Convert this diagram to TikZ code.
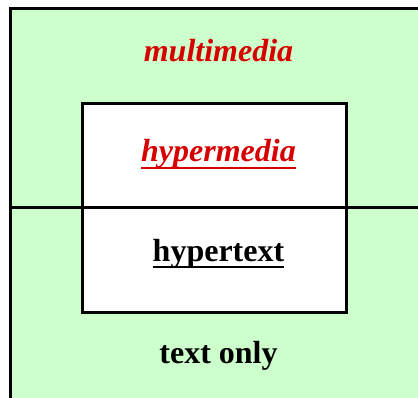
\documentclass[tikz,border=0pt]{standalone}
\usepackage{fontspec}
\setmainfont{Liberation Serif}
\usepackage{xcolor}
\usepackage{tikz}
\usetikzlibrary{positioning}
\definecolor{mintbg}{RGB}{204,255,204}
\definecolor{hotred}{RGB}{214,0,0}
\newcommand{\undr}[2]{\setbox0\hbox{#2}\rlap{\color{#1}\rule[-7pt]{\wd0}{2.4pt}}\box0}

\begin{document}
\begin{tikzpicture}[
  x=1pt, y=1pt,
  frame/.style={draw, line width=3pt},
  label/.style={font=\fontsize{32}{36}\selectfont\bfseries, anchor=base, inner sep=0pt}
]
\useasboundingbox (0,0) rectangle (418,397);
\begin{scope}
\clip (0,0) rectangle (418,397);
\fill[mintbg] (10.5,-10) rectangle (430,388.5);
\fill[white] (82,85) rectangle (346,293);
\draw[frame] (10.5,-10) rectangle (430,388.5);
\draw[frame] (10.5,189) -- (430,189);
\draw[frame] (82,85) rectangle (346,293);
\end{scope}
\node[label, text=hotred] (multi) at (218.5,335) {\itshape multimedia};
\node[label, text=hotred] (hmedia) at (218.5,235) {\itshape\undr{hotred}{hypermedia}};
\node[label] (htext) at (218.5,136) {\undr{black}{hypertext}};
\node[label] (tonly) at (218.5,34) {text only};
\end{tikzpicture}
\end{document}
